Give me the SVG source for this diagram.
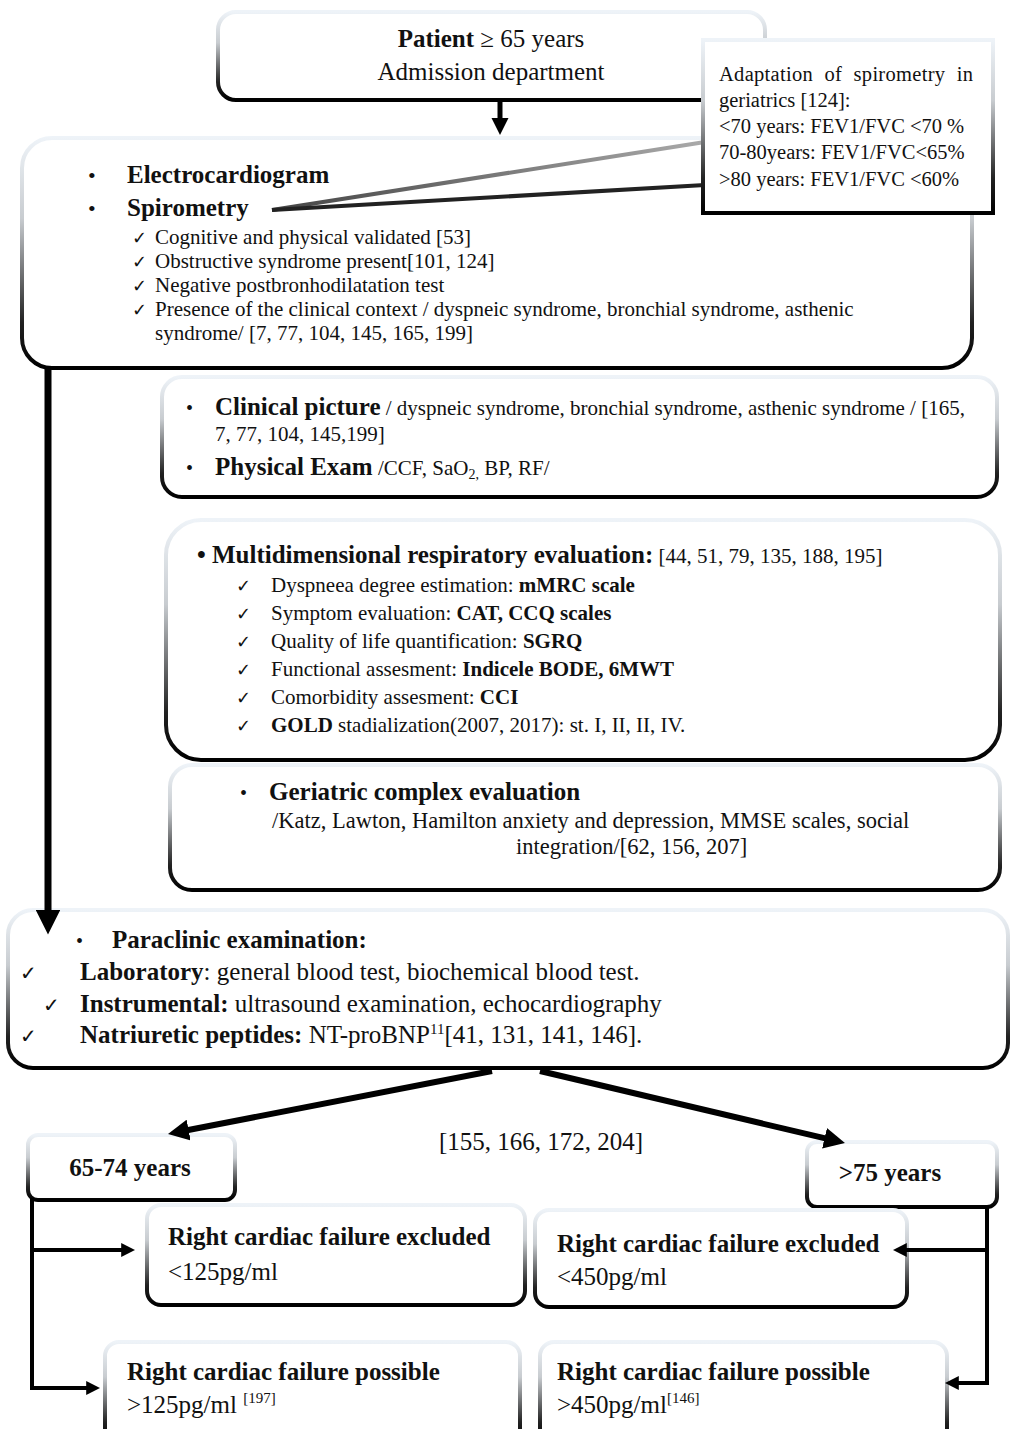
<svg xmlns="http://www.w3.org/2000/svg" width="1012" height="1429" viewBox="0 0 1012 1429">
<style>
text{font-family:"Liberation Serif","Times New Roman",serif;fill:#111}
.b{font-weight:bold}
.box{fill:#fff;stroke:url(#edge);stroke-width:4}
.conn{fill:none;stroke:#000;stroke-linecap:butt}
</style>
<defs>
<linearGradient id="edge" x1="0" y1="0" x2="0" y2="1">
<stop offset="0" stop-color="#eef3f8"/>
<stop offset="0.35" stop-color="#c8ccd0"/>
<stop offset="0.8" stop-color="#222"/>
<stop offset="1" stop-color="#000"/>
</linearGradient>
<linearGradient id="wedgeTop" x1="0" y1="0" x2="1" y2="0">
<stop offset="0" stop-color="#444"/>
<stop offset="1" stop-color="#aaa"/>
</linearGradient>
<marker id="ah" viewBox="0 0 10 10" refX="2" refY="5" markerWidth="3.5" markerHeight="3.5" orient="auto" markerUnits="strokeWidth">
<path d="M0,0 L10,5 L0,10 z" fill="#000"/>
</marker>
</defs>
<rect width="1012" height="1429" fill="#fff"/>

<g id="patient">
<rect class="box" x="218" y="12" width="547" height="88" rx="18"/>
<text x="491" y="47" text-anchor="middle" font-size="25"><tspan class="b">Patient</tspan> ≥ 65 years</text>
<text x="491" y="80" text-anchor="middle" font-size="25">Admission department</text>
</g>

<g id="ecg-spirometry">
<rect class="box" x="22" y="138" width="950" height="230" rx="30"/>
<text x="88" y="183" font-size="22">•</text>
<text x="127" y="183" font-size="25" class="b">Electrocardiogram</text>
<text x="88" y="216" font-size="22">•</text>
<text x="127" y="216" font-size="25" class="b">Spirometry</text>
<g font-size="21">
<text x="132" y="244" font-size="18">✓</text><text x="155" y="244">Cognitive and physical validated [53]</text>
<text x="132" y="268" font-size="18">✓</text><text x="155" y="268">Obstructive syndrome present[101, 124]</text>
<text x="132" y="292" font-size="18">✓</text><text x="155" y="292">Negative postbronhodilatation test</text>
<text x="132" y="316" font-size="18">✓</text><text x="155" y="316">Presence of the clinical context / dyspneic syndrome, bronchial syndrome, asthenic</text>
<text x="155" y="340">syndrome/ [7, 77, 104, 145, 165, 199]</text>
</g>
</g>

<g id="spirometry-callout">
<polygon points="705,142 272,210 705,185" fill="#fff"/>
<line x1="705" y1="142" x2="272" y2="210" stroke="url(#wedgeTop)" stroke-width="4"/>
<line x1="705" y1="185" x2="272" y2="210" stroke="#222" stroke-width="4"/>
<rect class="box" x="703" y="40" width="290" height="173"/>
<g font-size="20.5">
<text x="719" y="81" textLength="254" lengthAdjust="spacing" word-spacing="6">Adaptation of spirometry in</text>
<text x="719" y="107">geriatrics [124]:</text>
<text x="719" y="133">&lt;70 years: FEV1/FVC &lt;70 %</text>
<text x="719" y="159">70-80years: FEV1/FVC&lt;65%</text>
<text x="719" y="186">&gt;80 years: FEV1/FVC &lt;60%</text>
</g>
</g>

<g id="clinical">
<rect class="box" x="162" y="377" width="835" height="120" rx="20"/>
<text x="186" y="415" font-size="20">•</text>
<text x="215" y="415" font-size="21"><tspan class="b" font-size="25">Clinical picture</tspan> / dyspneic syndrome, bronchial syndrome, asthenic syndrome / [165,</text>
<text x="215" y="441" font-size="21">7, 77, 104, 145,199]</text>
<text x="186" y="475" font-size="20">•</text>
<text x="215" y="475" font-size="21"><tspan class="b" font-size="25">Physical Exam</tspan> /CCF, SaO<tspan font-size="14" dy="4">2,</tspan><tspan dy="-4"> BP, RF/</tspan></text>
</g>

<g id="multidimensional">
<rect class="box" x="166" y="520" width="834" height="240" rx="35"/>
<text x="197" y="563" font-size="21"><tspan class="b" font-size="25">• Multidimensional respiratory evaluation:</tspan> [44, 51, 79, 135, 188, 195]</text>
<g font-size="21">
<text x="236" y="592" font-size="18">✓</text><text x="271" y="592">Dyspneea degree estimation: <tspan class="b">mMRC scale</tspan></text>
<text x="236" y="620" font-size="18">✓</text><text x="271" y="620">Symptom evaluation: <tspan class="b">CAT, CCQ scales</tspan></text>
<text x="236" y="648" font-size="18">✓</text><text x="271" y="648">Quality of life quantification: <tspan class="b">SGRQ</tspan></text>
<text x="236" y="676" font-size="18">✓</text><text x="271" y="676">Functional assesment: <tspan class="b">Indicele BODE, 6MWT</tspan></text>
<text x="236" y="704" font-size="18">✓</text><text x="271" y="704">Comorbidity assesment: <tspan class="b">CCI</tspan></text>
<text x="236" y="732" font-size="18">✓</text><text x="271" y="732"><tspan class="b">GOLD</tspan> stadialization(2007, 2017): st. I, II, II, IV.</text>
</g>
</g>

<g id="geriatric">
<rect class="box" x="170" y="765" width="830" height="125" rx="22"/>
<text x="240" y="800" font-size="20">•</text>
<text x="269" y="800" font-size="25" class="b">Geriatric complex evaluation</text>
<text x="272" y="828" font-size="22.5">/Katz, Lawton, Hamilton anxiety and depression, MMSE scales, social</text>
<text x="516" y="854" font-size="22.5">integration/[62, 156, 207]</text>
</g>

<g id="paraclinic">
<rect class="box" x="8" y="910" width="1000" height="158" rx="25"/>
<text x="76" y="948" font-size="20">•</text>
<text x="112" y="948" font-size="25" class="b">Paraclinic examination:</text>
<g font-size="25">
<text x="20" y="980" font-size="20">✓</text><text x="80" y="980"><tspan class="b">Laboratory</tspan>: general blood test, biochemical blood test.</text>
<text x="43" y="1012" font-size="20">✓</text><text x="80" y="1012"><tspan class="b">Instrumental:</tspan> ultrasound examination, echocardiography</text>
<text x="20" y="1043" font-size="20">✓</text><text x="80" y="1043"><tspan class="b">Natriuretic peptides:</tspan> NT-proBNP<tspan font-size="15" dy="-9">11</tspan><tspan dy="9">[41, 131, 141, 146].</tspan></text>
</g>
</g>

<g id="refs-label">
<text x="541" y="1150" text-anchor="middle" font-size="25">[155, 166, 172, 204]</text>
</g>

<g id="age-65-74">
<rect class="box" x="28" y="1135" width="207" height="65" rx="10"/>
<text x="130" y="1176" text-anchor="middle" font-size="25" class="b">65-74 years</text>
</g>

<g id="age-75">
<rect class="box" x="807" y="1142" width="190" height="65" rx="10"/>
<text x="890" y="1181" text-anchor="middle" font-size="25" class="b">&gt;75 years</text>
</g>

<g id="excluded-125">
<rect class="box" x="147" y="1205" width="378" height="100" rx="14"/>
<text x="168" y="1245" font-size="25" class="b">Right cardiac failure excluded</text>
<text x="168" y="1280" font-size="25">&lt;125pg/ml</text>
</g>

<g id="excluded-450">
<rect class="box" x="535" y="1210" width="372" height="97" rx="14"/>
<text x="557" y="1252" font-size="25" class="b">Right cardiac failure excluded</text>
<text x="557" y="1285" font-size="25">&lt;450pg/ml</text>
</g>

<g id="possible-125">
<rect class="box" x="105" y="1342" width="415" height="100" rx="14"/>
<text x="127" y="1380" font-size="25" class="b">Right cardiac failure possible</text>
<text x="127" y="1413" font-size="25">&gt;125pg/ml <tspan font-size="15" dy="-10">[197]</tspan></text>
</g>

<g id="possible-450">
<rect class="box" x="540" y="1342" width="407" height="100" rx="14"/>
<text x="557" y="1380" font-size="25" class="b">Right cardiac failure possible</text>
<text x="557" y="1413" font-size="25">&gt;450pg/ml<tspan font-size="15" dy="-10">[146]</tspan></text>
</g>

<g id="connectors">
<line class="conn" x1="500" y1="100" x2="500" y2="121" stroke-width="5" marker-end="url(#ah)"/>
<line class="conn" x1="48" y1="368" x2="48" y2="915" stroke-width="7" marker-end="url(#ah)"/>
<line class="conn" x1="492" y1="1071" x2="184.5" y2="1130.8" stroke-width="6" marker-end="url(#ah)"/>
<line class="conn" x1="540" y1="1071" x2="828.6" y2="1139.2" stroke-width="6" marker-end="url(#ah)"/>
<path class="conn" d="M32,1198 V1388 H89" stroke-width="4" marker-end="url(#ah)"/>
<line class="conn" x1="34" y1="1250" x2="124" y2="1250" stroke-width="4" marker-end="url(#ah)"/>
<path class="conn" d="M987,1207 V1383 H956" stroke-width="4" marker-end="url(#ah)"/>
<line class="conn" x1="987" y1="1250" x2="904" y2="1250" stroke-width="4" marker-end="url(#ah)"/>
</g>
</svg>
